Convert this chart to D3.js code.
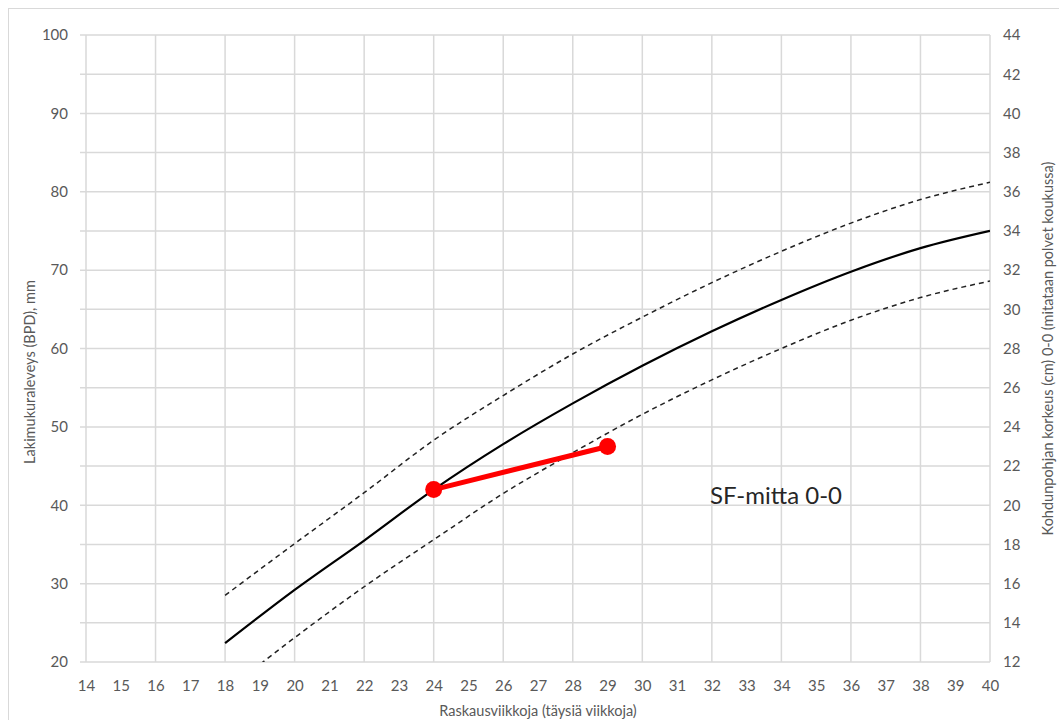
<!DOCTYPE html>
<html>
<head>
<meta charset="utf-8">
<script src="https://cdn.jsdelivr.net/npm/d3@7"></script>
<style>
  body { margin: 0; background: #fff; }
  text { font-family: Lato, "Open Sans", sans-serif; }
</style>
</head>
<body>
<div id="chart"></div>
<script>
// viikot ja käyrät (vasen akseli, mm)
const weeks = [18, 20, 22, 24, 26, 28, 30, 32, 34, 36, 38, 40];
const meanCurve = [22.4, 29.2, 35.5, 42, 47.8, 53, 57.8, 62.2, 66.2, 69.8, 72.8, 75];
const upperCurve = [28.5, 35.1, 41.6, 48.3, 54, 59.3, 64, 68.4, 72.4, 76, 79, 81.2];
const lowerCurve = [16.2, 23.1, 29.6, 35.6, 41.5, 46.7, 51.6, 56, 60, 63.6, 66.5, 68.6];

// mitatut SF-arvot
const measWeeks = [24, 29];
const measValues = [42, 47.5];

const xTicks = d3.range(14, 41);
const leftTicks = [20, 30, 40, 50, 60, 70, 80, 90, 100];
const rightTicks = d3.range(12, 45, 2);

const width = 1059, height = 720;
const margin = { top: 35, right: 69, bottom: 58, left: 86 };
const iw = width - margin.left - margin.right;
const ih = height - margin.top - margin.bottom;

const svg = d3.select('#chart').append('svg')
  .attr('width', width)
  .attr('height', height);

// ulkoreunus
svg.append('rect')
  .attr('x', 8.5).attr('y', 8.5)
  .attr('width', width + 10).attr('height', height + 10)
  .style('fill', 'none')
  .style('stroke', '#d9d9d9')
  .style('stroke-width', 1);

const g = svg.append('g').attr('transform', `translate(${margin.left},${margin.top})`);

const x = d3.scaleLinear().domain([14, 40]).range([0, iw]);
const y = d3.scaleLinear().domain([20, 100]).range([ih, 0]);
const y2 = d3.scaleLinear().domain([12, 44]).range([ih, 0]);

// ruudukko
g.append('g').selectAll('line.h')
  .data(d3.range(20, 101, 5))
  .join('line')
  .attr('x1', -6).attr('x2', iw)
  .attr('y1', d => y(d)).attr('y2', d => y(d))
  .style('stroke', '#d9d9d9').style('stroke-width', 1.5);

g.append('g').selectAll('line.v')
  .data(d3.range(14, 41, 2))
  .join('line')
  .attr('x1', d => x(d)).attr('x2', d => x(d))
  .attr('y1', 0).attr('y2', ih)
  .style('stroke', '#d9d9d9').style('stroke-width', 1.5);

// akselit
const tickColor = '#595959';
const xAxis = g.append('g')
  .attr('transform', `translate(0,${ih})`)
  .call(d3.axisBottom(x).tickValues(xTicks).tickSize(0).tickPadding(18).tickFormat(d3.format('d')));
const yAxis = g.append('g')
  .call(d3.axisLeft(y).tickValues(leftTicks).tickSize(0).tickPadding(18));
const yAxis2 = g.append('g')
  .attr('transform', `translate(${iw},0)`)
  .call(d3.axisRight(y2).tickValues(rightTicks).tickSize(0).tickPadding(13));

[xAxis, yAxis, yAxis2].forEach(a => {
  a.select('.domain').remove();
  a.selectAll('text').style('fill', tickColor).style('font-size', '15px');
});

// akselien otsikot
svg.append('text')
  .attr('x', margin.left + iw / 2).attr('y', 716)
  .attr('text-anchor', 'middle')
  .style('fill', tickColor).style('font-size', '14.5px')
  .text('Raskausviikkoja (täysiä viikkoja)');

svg.append('text')
  .attr('transform', 'translate(35,372) rotate(-90)')
  .attr('text-anchor', 'middle')
  .style('fill', tickColor).style('font-size', '14.5px')
  .text('Lakimukuraleveys (BPD), mm');

svg.append('text')
  .attr('transform', `translate(1053,${margin.top + ih / 2}) rotate(-90)`)
  .attr('text-anchor', 'middle')
  .style('fill', tickColor).style('font-size', '14.5px')
  .text('Kohdunpohjan  korkeus (cm) 0-0 (mitataan polvet koukussa)');

// käyrät, leikattu piirtoalueeseen
svg.append('defs').append('clipPath').attr('id', 'plot')
  .append('rect').attr('width', iw).attr('height', ih);

const curves = g.append('g').attr('clip-path', 'url(#plot)');
const line = d3.line().x((d, i) => x(weeks[i])).y(d => y(d)).curve(d3.curveMonotoneX);

curves.append('path').datum(upperCurve)
  .attr('d', line)
  .style('fill', 'none').style('stroke', '#222').style('stroke-width', 1.5)
  .style('stroke-dasharray', '5,4');

curves.append('path').datum(lowerCurve)
  .attr('d', line)
  .style('fill', 'none').style('stroke', '#222').style('stroke-width', 1.5)
  .style('stroke-dasharray', '5,4');

curves.append('path').datum(meanCurve)
  .attr('d', line)
  .style('fill', 'none').style('stroke', '#000').style('stroke-width', 2.2);

// mittaukset
const meas = measWeeks.map((w, i) => ({ w, v: measValues[i] }));
g.append('path').datum(meas)
  .attr('d', d3.line().x(d => x(d.w)).y(d => y(d.v)))
  .style('fill', 'none').style('stroke', '#ff0000').style('stroke-width', 5);

g.selectAll('circle.m')
  .data(meas)
  .join('circle')
  .attr('cx', d => x(d.w)).attr('cy', d => y(d.v))
  .attr('r', 8.5)
  .style('fill', '#ff0000');

// teksti
g.append('text')
  .attr('x', x(31.95)).attr('y', y(40.2))
  .style('fill', '#262626').style('font-size', '24px')
  .text('SF-mitta 0-0');
</script>
</body>
</html>
